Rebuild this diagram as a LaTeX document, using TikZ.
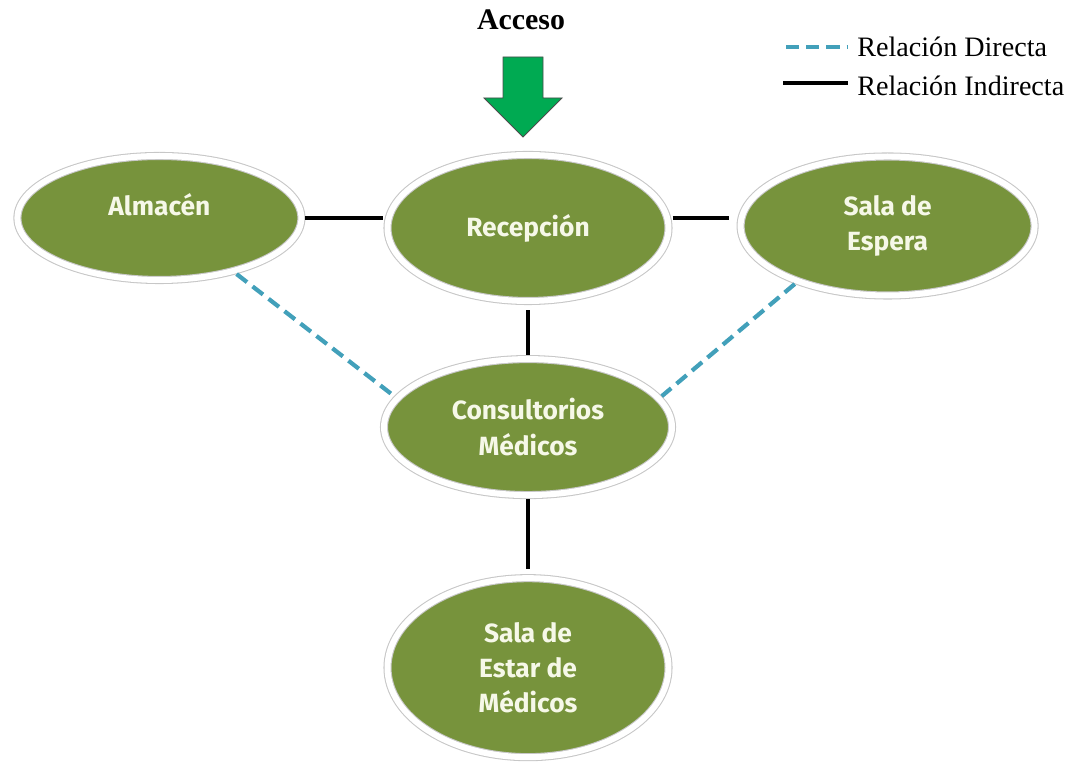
\documentclass[tikz,border=0pt]{standalone}
\usepackage{fontspec}
\setmainfont{Liberation Serif}
\newfontfamily\roomfont{Fira Sans}
\usepackage{tikz}
\usetikzlibrary{
  positioning,
  shapes.geometric,
  calc
}
\definecolor{roomgreen}{RGB}{119,147,60}
\definecolor{roomtext}{RGB}{246,248,232}
\definecolor{accgreen}{RGB}{0,170,82}
\definecolor{dirteal}{RGB}{66,160,186}
\tikzset{
  roombox/.style={ellipse, draw=black!22, line width=0.6pt,
    double=white, double distance=3.4pt, fill=roomgreen,
    outer sep=2.3pt, inner sep=0pt, align=center,
    text=roomtext, font=\roomfont\bfseries\fontsize{15}{20}\selectfont},
  indirecta/.style={line width=2.2pt, black},
  directa/.style={line width=2.4pt, dirteal, dash pattern=on 7.5pt off 4pt},
}

\begin{document}
\begin{tikzpicture}
  \useasboundingbox (0,0) rectangle (21.6,15.34);

  % Central column
  \node[roombox, minimum width=5.62cm, minimum height=2.92cm] (recep)
    at (10.56,10.78) {Recepci\'on};
  \node[roombox, minimum width=5.76cm, minimum height=2.72cm,
        below=1.0cm of recep] (cons) {Consultorios\\M\'edicos};
  \node[roombox, minimum width=5.62cm, minimum height=3.58cm,
        below=1.5cm of cons] (estar) {Sala de\\Estar de\\M\'edicos};

  % Side rooms
  \node[roombox, minimum width=5.68cm, minimum height=2.48cm,
        left=1.56cm of recep, yshift=0.2cm] (almacen)
    {\raisebox{7.5pt}[\height][\depth]{Almac\'en}};
  \node[roombox, minimum width=5.88cm, minimum height=2.78cm,
        right=1.28cm of recep, yshift=0.04cm] (espera) {Sala de\\Espera};

  % Relations
  \draw[indirecta] (almacen.east) -- (almacen.east -| recep.west);
  \draw[indirecta, shorten >=0.16cm] (almacen.east -| recep.east) -- (almacen.east -| espera.west);
  \draw[indirecta, shorten <=0.1cm] (recep) -- (cons);
  \draw[indirecta, shorten >=0.1cm] (cons) -- (estar);
  \draw[directa] (almacen.-36) -- (cons.167);
  \draw[directa] (espera.212) -- (cons.13);

  % Access arrow
  \node[font=\fontsize{17}{20}\selectfont\bfseries] (acceso) at (10.42,14.94) {Acceso};
  \coordinate (flecha) at (10.46,14.2);
  \filldraw[fill=accgreen, draw=black!70, line width=0.5pt]
    ($(flecha)+(-0.4,0)$) -- ++(0.8,0) -- ++(0,-0.82) -- ++(0.38,0)
    -- ++(-0.78,-0.78) -- ++(-0.78,0.78) -- ++(0.38,0) -- cycle;

  % Legend
  \node[anchor=west, font=\fontsize{16}{18}\selectfont, inner sep=0pt]
    (leyd) at (17.14,14.4) {Relaci\'on Directa};
  \node[anchor=west, font=\fontsize{16}{18}\selectfont, inner sep=0pt]
    (leyi) at (17.14,13.62) {Relaci\'on Indirecta};
  \draw[directa] ([xshift=-1.42cm]leyd.west) -- ([xshift=-0.18cm]leyd.west);
  \draw[indirecta] ([xshift=-1.48cm,yshift=0.06cm]leyi.west) -- ([xshift=-0.18cm,yshift=0.06cm]leyi.west);
\end{tikzpicture}
\end{document}
